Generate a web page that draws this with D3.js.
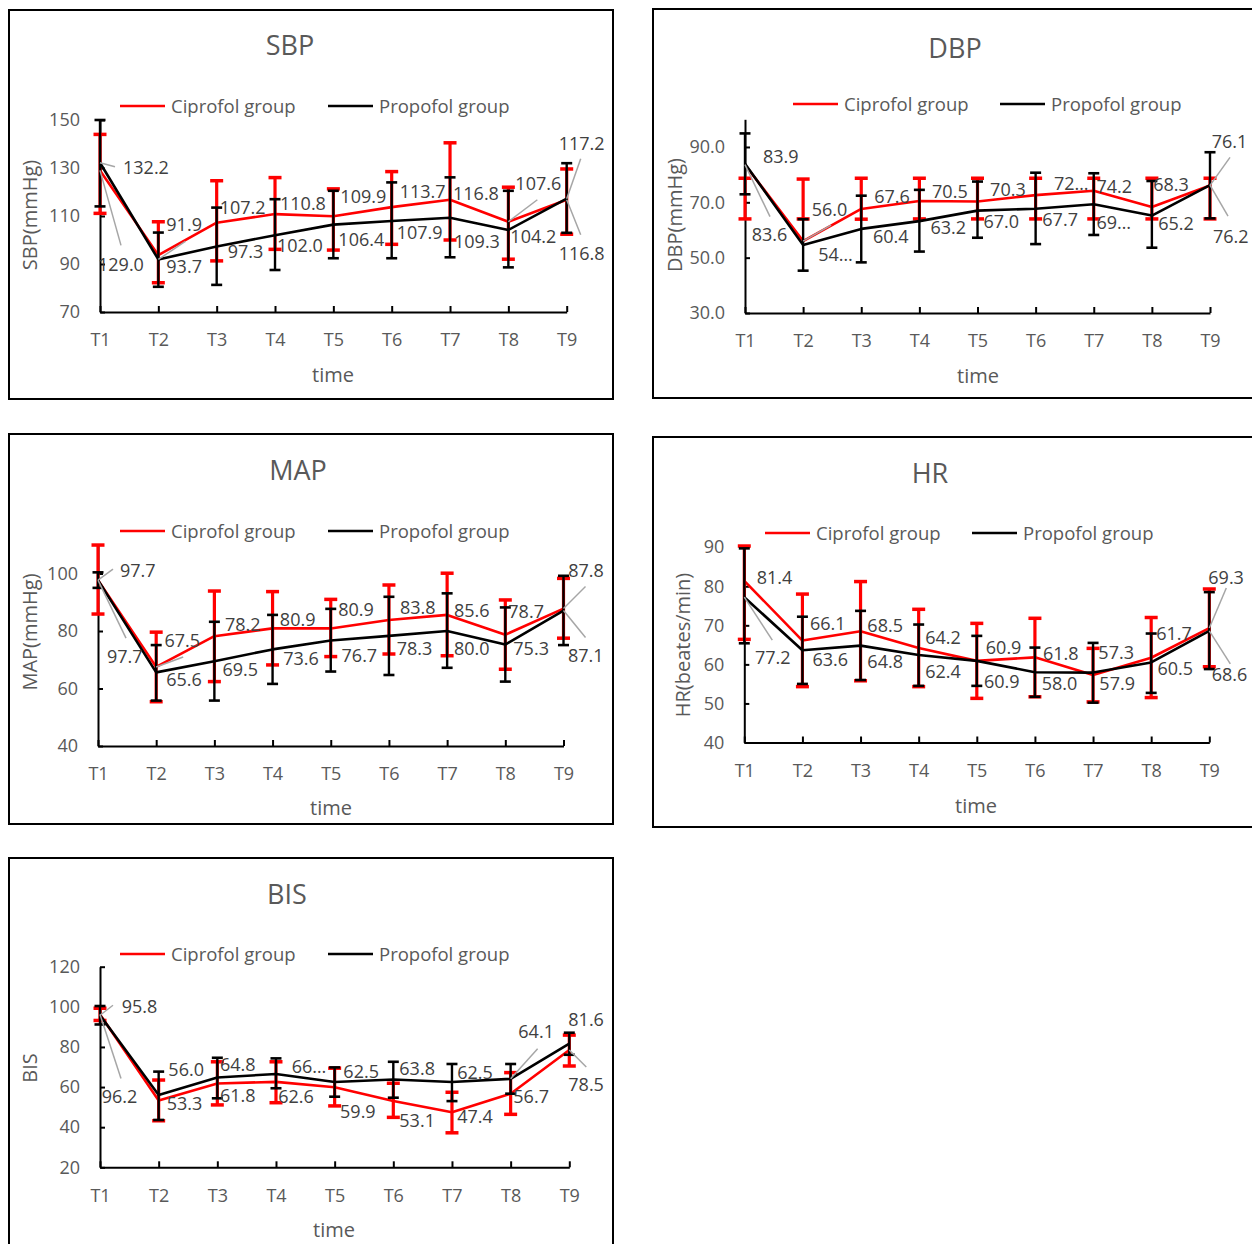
<!DOCTYPE html>
<html><head><meta charset="utf-8">
<script src="https://cdn.jsdelivr.net/npm/d3@7"></script>
<style>body{margin:0;background:#fff}svg{display:block}text{font-family:"Open Sans",sans-serif}</style>
</head><body><svg id="c" width="1252" height="1244"></svg>
<script>
// ---------------- DATA ----------------
const categories = ["T1","T2","T3","T4","T5","T6","T7","T8","T9"];
const seriesNames = ["Ciprofol group","Propofol group"];

// SBP
const sbpCiprofol      = [129.0, 93.7, 107.2, 110.8, 109.9, 113.7, 116.8, 107.6, 116.8];
const sbpPropofol      = [132.2, 91.9, 97.3, 102.0, 106.4, 107.9, 109.3, 104.2, 117.2];
const sbpCiprofolHigh  = [144.0, 107.6, 124.7, 126.0, 121.3, 128.5, 140.5, 122.0, 129.6];
const sbpCiprofolLow   = [111.1, 82.2, 91.3, 96.1, 95.8, 98.2, 100.0, 92.0, 102.4];
const sbpPropofolHigh  = [150.0, 103.1, 113.5, 117.0, 120.5, 124.0, 126.1, 120.5, 132.0];
const sbpPropofolLow   = [114.0, 80.5, 81.3, 87.5, 92.4, 92.4, 92.8, 88.6, 103.0];
const sbpTicks = [70, 90, 110, 130, 150];

// DBP
const dbpCiprofol      = [83.6, 56.0, 67.6, 70.5, 70.3, 72.6, 74.2, 68.3, 76.1];
const dbpPropofol      = [83.9, 54.6, 60.4, 63.2, 67.0, 67.7, 69.3, 65.2, 76.2];
const dbpCiprofolHigh  = [78.7, 78.4, 78.7, 78.7, 78.7, 78.7, 78.7, 78.7, 78.7];
const dbpCiprofolLow   = [64.0, 64.0, 63.9, 64.0, 64.0, 64.0, 64.0, 64.0, 64.0];
const dbpPropofolHigh  = [94.9, 63.9, 72.4, 74.5, 77.5, 80.7, 80.5, 77.7, 88.1];
const dbpPropofolLow   = [72.9, 45.3, 48.3, 52.2, 57.2, 54.9, 58.2, 53.6, 64.2];
const dbpTicks = [30, 50, 70, 90];

// MAP
const mapCiprofol      = [97.7, 67.5, 78.2, 80.9, 80.9, 83.8, 85.6, 78.7, 87.8];
const mapPropofol      = [97.7, 65.6, 69.5, 73.6, 76.7, 78.3, 80.0, 75.3, 87.1];
const mapCiprofolHigh  = [109.9, 79.6, 93.9, 93.7, 91.0, 96.0, 100.1, 90.8, 98.3];
const mapCiprofolLow   = [85.9, 55.4, 62.4, 68.2, 71.1, 72.0, 71.4, 66.7, 77.5];
const mapPropofolHigh  = [100.4, 75.1, 83.2, 85.6, 87.7, 91.9, 93.1, 88.2, 99.2];
const mapPropofolLow   = [95.0, 55.8, 55.8, 61.6, 65.9, 64.7, 67.2, 62.4, 75.1];
const mapTicks = [40, 60, 80, 100];

// HR
const hrCiprofol       = [81.4, 66.1, 68.5, 64.2, 60.9, 61.8, 57.3, 61.7, 69.3];
const hrPropofol       = [77.2, 63.6, 64.8, 62.4, 60.9, 58.0, 57.9, 60.5, 68.6];
const hrCiprofolHigh   = [90.3, 78.0, 81.2, 74.1, 70.5, 71.8, 64.1, 72.0, 79.3];
const hrCiprofolLow    = [66.4, 54.3, 55.8, 54.3, 51.3, 51.7, 50.4, 51.5, 59.4];
const hrPropofolHigh   = [89.7, 72.2, 73.7, 70.2, 67.3, 64.3, 65.5, 67.9, 78.5];
const hrPropofolLow    = [65.4, 55.0, 56.0, 54.5, 54.5, 51.7, 50.2, 52.7, 58.8];
const hrTicks = [40, 50, 60, 70, 80, 90];

// BIS
const bisCiprofol      = [96.2, 53.3, 61.8, 62.6, 59.9, 53.1, 47.4, 56.7, 78.5];
const bisPropofol      = [95.8, 56.0, 64.8, 66.5, 62.5, 63.8, 62.5, 64.1, 81.6];
const bisCiprofolHigh  = [99.3, 63.5, 72.6, 72.6, 69.4, 61.9, 57.4, 67.2, 85.9];
const bisCiprofolLow   = [93.2, 43.2, 51.1, 52.2, 50.6, 44.9, 37.2, 46.4, 70.5];
const bisPropofolHigh  = [100.4, 67.7, 74.6, 74.3, 69.8, 72.6, 71.5, 71.5, 87.1];
const bisPropofolLow   = [91.2, 43.6, 54.4, 59.4, 55.2, 54.7, 53.0, 56.7, 76.1];
const bisTicks = [20, 40, 60, 80, 100, 120];

// ---------------- LABEL LAYOUT (offsets relative to each point) ----------------
const sbpLabels = {
  red:   [[-2,94],[8,11.6],[3,-15],[5,-10],[7,-19.5],[8,-15.4],[3,-6.4],[7,-38.5],[-8,53.6]],
  black: [[23,5],[8,-34.4],[11,5],[2,10.5],[5,15.4],[5,11.7],[4,24],[2,6.8],[-8,-55.4]],
  leaders: [["red",0,21,75],["black",0,15,4],["black",1,27,-18],["red",7,29,-22],["red",8,14,35],["black",8,14,-40]],
  trunc: []
};
const dbpLabels = {
  red:   [[6.7,70],[8.5,-31],[13,-12.3],[12.7,-9.3],[12.6,-12.3],[18.3,-11.8],[2.7,-4],[1.3,-22],[1.7,-44]],
  black: [[18,-7],[15,10],[11.7,7.8],[11,6.5],[6,11],[6.7,11.3],[2.7,18.4],[6.3,7.7],[3,51]],
  leaders: [["red",0,25,52],["red",1,28,-16],["red",8,20,-28],["black",8,18,31]],
  trunc: [["black",1],["red",5],["black",6]]
};
const mapLabels = {
  red:   [[22,-9.7],[8.3,-26],[10.5,-12],[7.3,-8.4],[7.4,-18.4],[11,-12.4],[6.8,-4],[3,-23],[4.7,-38]],
  black: [[9,76],[10,7],[8,8],[10.6,9],[10.8,15.5],[7.7,12.4],[6.8,17.3],[8,3.8],[4.4,45.4]],
  leaders: [["red",0,15,-11],["black",0,28,58],["red",1,27,-10],["red",8,22,-22],["black",8,22,27]],
  trunc: []
};
const hrLabels = {
  red:   [[12.4,-3.5],[7.6,-17.3],[6.8,-5.2],[6.5,-10],[9,-13.6],[8,-4],[5.3,-22.2],[5,-24.4],[-1,-50]],
  black: [[10.7,60],[10,9.7],[6.8,16],[6.5,16.7],[7.2,20.4],[6.8,11],[6.3,10.7],[6.3,6.6],[2.4,44]],
  leaders: [["black",0,28,43],["red",8,17,-40],["black",8,21,33]],
  trunc: []
};
const bisLabels = {
  red:   [[1.7,82],[8,2.8],[2.7,12.6],[2.3,15],[5.4,24.4],[6,19.8],[5.3,4.4],[2.7,3],[-1,35]],
  black: [[21.7,-9],[9.7,-25],[2.7,-12.4],[15.7,-7.6],[8.7,-10.3],[6,-11],[5.3,-9.3],[7.7,-47],[-1,-23.8]],
  leaders: [["black",0,13,-10],["red",0,21,64],["black",7,27,-30],["red",8,17,17]],
  trunc: [["black",3]]
};

// ---------------- PANELS ----------------
const panels = [
  {title:"SBP", yTitle:"SBP(mmHg)", red:[sbpCiprofol,sbpCiprofolHigh,sbpCiprofolLow], black:[sbpPropofol,sbpPropofolHigh,sbpPropofolLow],
   ticks:sbpTicks, domain:[70,150], fmt:"d", labels:sbpLabels,
   box:[9,10,613,399], x0:100, x1:566.7, y0:312, y1:120, titlePos:[290,45], legY:106, legX:[120,328],
   timePos:[333,375], yTitlePos:[30,215]},
  {title:"DBP", yTitle:"DBP(mmHg)", red:[dbpCiprofol,dbpCiprofolHigh,dbpCiprofolLow], black:[dbpPropofol,dbpPropofolHigh,dbpPropofolLow],
   ticks:dbpTicks, domain:[30,100], fmt:".1f", labels:dbpLabels,
   box:[653,9,1264,398], x0:745, x1:1210, y0:313, y1:119.3, titlePos:[955,48], legY:104, legX:[793,1000],
   timePos:[978,376], yTitlePos:[675,215]},
  {title:"MAP", yTitle:"MAP(mmHg)", red:[mapCiprofol,mapCiprofolHigh,mapCiprofolLow], black:[mapPropofol,mapPropofolHigh,mapPropofolLow],
   ticks:mapTicks, domain:[40,110], fmt:"d", labels:mapLabels,
   box:[9,434,613,824], x0:98, x1:563.5, y0:746, y1:544.75, titlePos:[298,470], legY:531, legX:[120,328],
   timePos:[331,808], yTitlePos:[30,632]},
  {title:"HR", yTitle:"HR(beates/min)", red:[hrCiprofol,hrCiprofolHigh,hrCiprofolLow], black:[hrPropofol,hrPropofolHigh,hrPropofolLow],
   ticks:hrTicks, domain:[40,90], fmt:"d", labels:hrLabels,
   box:[653,437,1264,827], x0:744.3, x1:1209.3, y0:742.5, y1:547.2, titlePos:[930,473], legY:533, legX:[765,972],
   timePos:[976,806], yTitlePos:[683,645]},
  {title:"BIS", yTitle:"BIS", red:[bisCiprofol,bisCiprofolHigh,bisCiprofolLow], black:[bisPropofol,bisPropofolHigh,bisPropofolLow],
   ticks:bisTicks, domain:[20,120], fmt:"d", labels:bisLabels,
   box:[9,858,613,1264], x0:100, x1:569.3, y0:1167.3, y1:966.7, titlePos:[287,894], legY:954, legX:[120,328],
   timePos:[334,1230], yTitlePos:[30,1068]}
];

const svg = d3.select("#c");
const GREY = "#595959", LABEL = "#404040", LEADER = "#a6a6a6";
const seriesStyle = {
  red:   {color:"#ff0000", capW:13, barW:3.2, capH:3.5},
  black: {color:"#000000", capW:11, barW:2.4, capH:2.6}
};

function drawPanel(p) {
  const g = svg.append("g");
  g.append("rect").attr("x",p.box[0]).attr("y",p.box[1])
    .attr("width",p.box[2]-p.box[0]).attr("height",p.box[3]-p.box[1])
    .attr("fill","none").attr("stroke","#000").attr("stroke-width",2);

  g.append("text").attr("x",p.titlePos[0]).attr("y",p.titlePos[1]+9.6)
    .attr("text-anchor","middle").attr("font-size",27).attr("fill",GREY).text(p.title);

  // legend
  ["red","black"].forEach((k,j) => {
    const lx = p.legX[j];
    g.append("line").attr("x1",lx).attr("x2",lx+45).attr("y1",p.legY).attr("y2",p.legY)
      .attr("stroke",seriesStyle[k].color).attr("stroke-width",2.5);
    g.append("text").attr("x",lx+51).attr("y",p.legY+6.6).attr("font-size",18.5).attr("fill",GREY)
      .text(seriesNames[j]);
  });

  const x = d3.scalePoint().domain(categories).range([p.x0,p.x1]);
  const y = d3.scaleLinear().domain(p.domain).range([p.y0,p.y1]);

  const ya = g.append("g").attr("transform",`translate(${p.x0},0)`)
    .call(d3.axisLeft(y).tickValues(p.ticks).tickFormat(d3.format(p.fmt))
      .tickSizeInner(-5).tickSizeOuter(0).tickPadding(20));
  const xa = g.append("g").attr("transform",`translate(0,${p.y0})`)
    .call(d3.axisBottom(x).tickSizeInner(-6).tickSizeOuter(0).tickPadding(21.5));
  [ya,xa].forEach(a => {
    a.attr("font-family",null).attr("font-size",null);
    a.select(".domain").attr("stroke","#000").attr("stroke-width",2);
    a.selectAll(".tick line").attr("stroke","#000").attr("stroke-width",2);
    a.selectAll(".tick text").attr("fill",GREY).attr("font-size",18);
  });

  g.append("text").attr("x",p.timePos[0]).attr("y",p.timePos[1]+7)
    .attr("text-anchor","middle").attr("font-size",20).attr("fill",GREY).text("time");
  g.append("text").attr("transform",`translate(${p.yTitlePos[0]+7},${p.yTitlePos[1]}) rotate(-90)`)
    .attr("text-anchor","middle").attr("font-size",20).attr("fill",GREY).text(p.yTitle);

  const line = d3.line().x((d,i) => x(categories[i])).y(d => y(d));

  ["red","black"].forEach(k => {
    const st = seriesStyle[k];
    const [vals, hi, lo] = p[k];
    const sg = g.append("g");
    categories.forEach((c,i) => {
      const cx = x(c);
      sg.append("line").attr("x1",cx).attr("x2",cx).attr("y1",y(hi[i])).attr("y2",y(lo[i]))
        .attr("stroke",st.color).attr("stroke-width",st.barW);
      [hi[i],lo[i]].forEach(v => {
        sg.append("line").attr("x1",cx-st.capW/2).attr("x2",cx+st.capW/2).attr("y1",y(v)).attr("y2",y(v))
          .attr("stroke",st.color).attr("stroke-width",st.capH);
      });
    });
    sg.append("path").datum(vals).attr("d",line).attr("fill","none")
      .attr("stroke",st.color).attr("stroke-width",2.6).attr("stroke-linejoin","round");
  });

  // leader lines
  p.labels.leaders.forEach(([k,i,lx,ly]) => {
    const cx = x(categories[i]), cy = y(p[k][0][i]);
    g.append("line").attr("x1",cx).attr("y1",cy).attr("x2",cx+lx).attr("y2",cy+ly)
      .attr("stroke",LEADER).attr("stroke-width",1.5);
  });

  // data labels
  ["red","black"].forEach(k => {
    const vals = p[k][0];
    vals.forEach((v,i) => {
      const [dx,dy] = p.labels[k][i];
      const truncated = p.labels.trunc.some(([tk,ti]) => tk===k && ti===i);
      const txt = truncated ? Math.trunc(v) + "\u2026" : d3.format(".1f")(v);
      g.append("text").attr("x",x(categories[i])+dx).attr("y",y(v)+dy+6.4)
        .attr("font-size",18).attr("fill",LABEL).text(txt);
    });
  });
}

panels.forEach(drawPanel);
</script>
</body></html>
